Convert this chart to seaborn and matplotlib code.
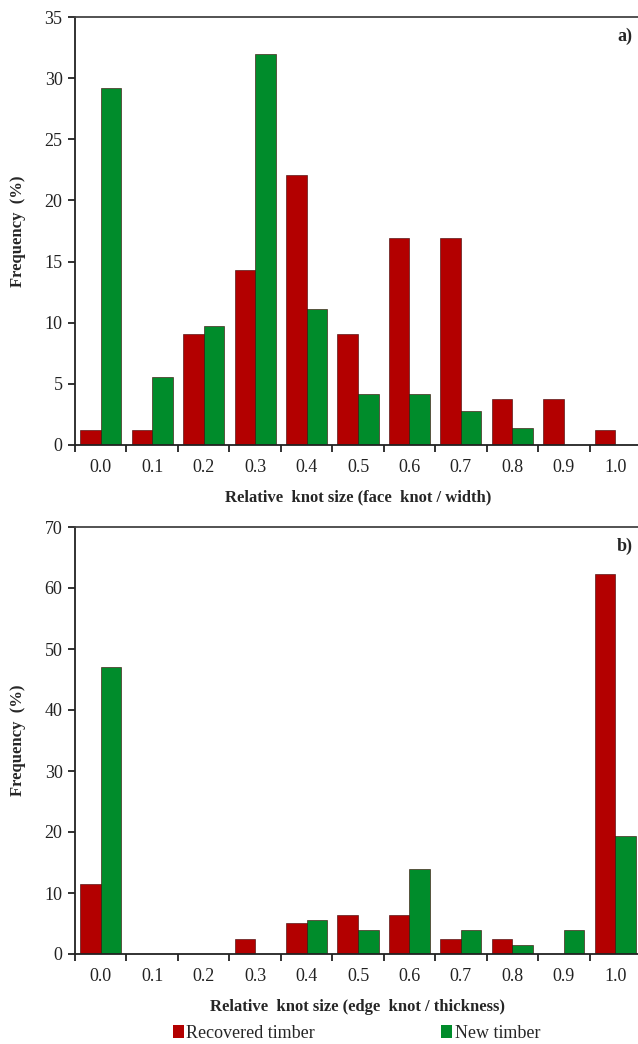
import numpy as np
import pandas as pd
import matplotlib
matplotlib.use("Agg")
import matplotlib.pyplot as plt
import seaborn as sns
from matplotlib.patches import Patch

categories = ["0.0", "0.1", "0.2", "0.3", "0.4", "0.5", "0.6", "0.7", "0.8", "0.9", "1.0"]
series_names = ["Recovered timber", "New timber"]

face_recovered = [1.2, 1.2, 9.1, 14.3, 22.1, 9.1, 16.9, 16.9, 3.8, 3.8, 1.2]
face_new = [29.2, 5.6, 9.7, 32.0, 11.1, 4.2, 4.2, 2.8, 1.4, 0.0, 0.0]

edge_recovered = [11.5, 0.0, 0.0, 2.5, 5.1, 6.4, 6.4, 2.5, 2.5, 0.0, 62.3]
edge_new = [47.1, 0.0, 0.0, 0.0, 5.6, 4.0, 13.9, 4.0, 1.4, 4.0, 19.4]

top_yticks = [0, 5, 10, 15, 20, 25, 30, 35]
bottom_yticks = [0, 10, 20, 30, 40, 50, 60, 70]

colors = {"Recovered timber": "#b30000", "New timber": "#008c2b"}

sns.set_theme(style="white")
plt.rcParams['font.family'] = ['Liberation Serif', 'DejaVu Serif']

def make_df(rec, new):
    return pd.DataFrame({
        "size": categories * 2,
        "freq": list(rec) + list(new),
        "type": [series_names[0]] * len(categories) + [series_names[1]] * len(categories),
    })

fig = plt.figure(figsize=(6.38, 10.44), dpi=100)
W = 566 / 638
ax1 = fig.add_axes([75 / 638, 1 - 445 / 1044, W, 428 / 1044])
ax2 = fig.add_axes([75 / 638, 1 - 954 / 1044, W, 427 / 1044])

def draw(ax, rec, new, yticks, xlabel, tag):
    df = make_df(rec, new)
    sns.barplot(data=df, x="size", y="freq", hue="type", palette=colors,
                width=0.8, saturation=1, ax=ax, legend=False,
                edgecolor="#3a0000", linewidth=0.4)
    ax.set_xlim(-0.5, len(categories) - 0.5)
    ax.set_ylim(0, yticks[-1])
    ax.set_yticks(yticks)
    ax.set_yticklabels([str(t) for t in yticks], fontsize=13)
    ax.set_xticks(range(len(categories)))
    ax.set_xticklabels(categories, fontsize=13)
    ax.tick_params(axis="x", which="major", length=0, pad=10, colors="#222222")
    ax.set_xticks(np.arange(-0.5, len(categories) - 0.4, 1.0), minor=True)
    ax.tick_params(axis="x", which="minor", direction="out", length=5, width=1.3, color="#222222", bottom=True)
    ax.tick_params(axis="y", direction="out", length=5, width=1.3, color="#222222", left=True, pad=4, labelcolor="#222222")
    for s in ["left", "bottom", "top", "right"]:
        ax.spines[s].set_color("#222222")
        ax.spines[s].set_linewidth(1.3)
    ax.spines["top"].set_color("#444444")
    ax.set_xlabel(xlabel, fontsize=12, fontweight="bold", labelpad=10)
    ax.set_ylabel("Frequency  (%)", fontsize=12, fontweight="bold", labelpad=13)
    ax.text(0.985, 0.955, tag, transform=ax.transAxes, fontsize=13, fontweight="bold",
            ha="right", va="center")

draw(ax1, face_recovered, face_new, top_yticks, "Relative  knot size (face  knot / width)", "a)")
draw(ax2, edge_recovered, edge_new, bottom_yticks, "Relative  knot size (edge  knot / thickness)", "b)")

handles = [Patch(facecolor=colors[n], edgecolor="none") for n in series_names]
fig.legend(handles, series_names, loc="center", bbox_to_anchor=(0.559, 1 - 1033 / 1044),
           ncol=2, frameon=False, fontsize=13, handlelength=0.6, handleheight=0.7,
           handletextpad=0.15, columnspacing=7.0)

fig.savefig("out.png", dpi=100)
